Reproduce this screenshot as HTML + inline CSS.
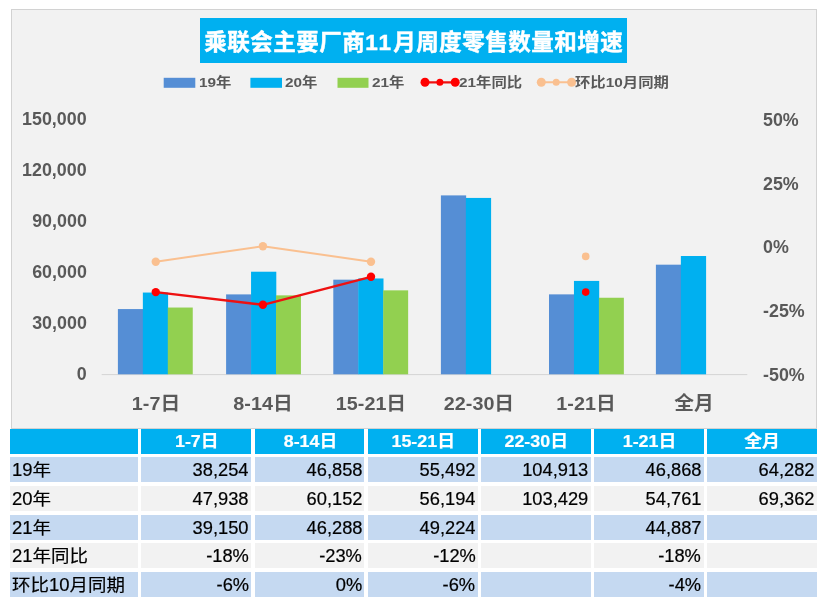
<!DOCTYPE html>
<html lang="zh"><head><meta charset="utf-8"><title>乘联会主要厂商11月周度零售数量和增速</title>
<style>
html,body{margin:0;padding:0;background:#fff;}
body{width:831px;height:615px;position:relative;overflow:hidden;font-family:"Liberation Sans","Noto Sans CJK SC",sans-serif;}
.abs{position:absolute;white-space:nowrap;}
#chart{position:absolute;left:10.5px;top:8.5px;width:806.5px;height:420.3px;background:#f2f2f2;border:1px solid #d2d2d2;box-sizing:border-box;}
#title{left:200.3px;top:18.2px;width:426.4px;height:44.6px;background:#00b0f0;color:#fff;font-weight:bold;font-size:22.5px;line-height:49.6px;text-align:center;letter-spacing:0.5px;text-indent:0.5px;-webkit-text-stroke:0.45px #fff;}
.yl{color:#595959;font-weight:bold;font-size:17.6px;line-height:20px;height:20px;transform:scaleX(1.015);}
.yl.l{right:744.3px;text-align:right;transform-origin:100% 50%;}
.yl.r{left:763.0px;transform-origin:0 50%;}
.cat{color:#595959;font-weight:bold;font-size:19px;line-height:22px;height:22px;width:100px;text-align:center;transform:scaleX(1.04);transform-origin:50% 50%;}
.lg{color:#595959;font-weight:bold;font-size:13.6px;line-height:16px;height:16px;transform:scaleX(1.13);transform-origin:0 50%;}
.cell{position:absolute;height:25.4px;line-height:25.4px;font-size:17.5px;color:#000;white-space:nowrap;box-sizing:border-box;-webkit-text-stroke:0.2px #000;}
.hd{-webkit-text-stroke:0.2px #fff;background:#00b0f0;color:#fff;font-weight:bold;text-align:center;font-size:17px;}
.b{background:#c5d9f1;}
.g{background:#f2f2f2;}
.n{text-align:right;padding-right:2.3px;}
.f{text-align:left;padding-left:2.0px;}
.cell span{display:inline-block;position:relative;top:1px;}
.hd span{transform:scaleX(1.05);top:0.6px;left:0.5px;}
.n span{transform:scaleX(1.045);top:1.4px;transform-origin:100% 50%;}
.f span{transform:scaleX(1.055);transform-origin:0 50%;}
</style></head><body>
<div id="chart"></div>
<div id="title" class="abs">乘联会主要厂商<span style="letter-spacing:2px">11</span>月周度零售数量和增速</div>

<svg class="abs" style="left:0;top:0" width="831" height="615" viewBox="0 0 831 615"><line x1="101.7" y1="374.6" x2="747.3" y2="374.6" stroke="#d4d4d4" stroke-width="1"/>
<rect x="117.90" y="309.06" width="25.25" height="65.24" fill="#558ed5"/>
<rect x="142.85" y="292.55" width="25.25" height="81.75" fill="#00b0f0"/>
<rect x="167.80" y="307.54" width="24.95" height="66.76" fill="#92d050"/>
<rect x="226.10" y="294.39" width="25.25" height="79.91" fill="#558ed5"/>
<rect x="251.05" y="271.72" width="25.25" height="102.58" fill="#00b0f0"/>
<rect x="276.00" y="295.36" width="24.95" height="78.94" fill="#92d050"/>
<rect x="333.30" y="279.67" width="25.25" height="94.63" fill="#558ed5"/>
<rect x="358.25" y="278.47" width="25.25" height="95.83" fill="#00b0f0"/>
<rect x="383.20" y="290.36" width="24.95" height="83.94" fill="#92d050"/>
<rect x="440.90" y="195.39" width="25.25" height="178.91" fill="#558ed5"/>
<rect x="465.85" y="197.92" width="25.25" height="176.38" fill="#00b0f0"/>
<rect x="549.00" y="294.37" width="25.25" height="79.93" fill="#558ed5"/>
<rect x="573.95" y="280.91" width="25.25" height="93.39" fill="#00b0f0"/>
<rect x="598.90" y="297.75" width="24.95" height="76.55" fill="#92d050"/>
<rect x="655.90" y="264.68" width="25.25" height="109.62" fill="#558ed5"/>
<rect x="680.85" y="256.01" width="25.25" height="118.29" fill="#00b0f0"/>
<polyline fill="none" stroke="#fac090" stroke-width="2" stroke-linejoin="round" points="155.75,261.7 262.9,246.2 371.0,261.7"/>
<circle cx="155.75" cy="261.7" r="4.2" fill="#fac090"/>
<circle cx="262.9" cy="246.2" r="4.2" fill="#fac090"/>
<circle cx="371.0" cy="261.7" r="4.2" fill="#fac090"/>
<circle cx="585.7" cy="256.4" r="3.8" fill="#fac090"/>
<polyline fill="none" stroke="#ee1111" stroke-width="2.4" stroke-linejoin="round" points="155.75,292.1 262.9,304.8 371.0,276.8"/>
<circle cx="155.75" cy="292.1" r="4.2" fill="#ff0000"/>
<circle cx="262.9" cy="304.8" r="4.2" fill="#ff0000"/>
<circle cx="371.0" cy="276.8" r="4.2" fill="#ff0000"/>
<circle cx="585.7" cy="292.1" r="3.8" fill="#ff0000"/>
<rect x="163.7" y="77.8" width="31.6" height="10" fill="#558ed5"/>
<rect x="250.4" y="77.8" width="31.6" height="10" fill="#00b0f0"/>
<rect x="337.5" y="77.8" width="31" height="10" fill="#92d050"/>
<line x1="421" y1="82.3" x2="459" y2="82.3" stroke="#ee1111" stroke-width="2.2"/>
<circle cx="425" cy="82.3" r="4.5" fill="#ff0000"/>
<circle cx="439.9" cy="82.3" r="3.5" fill="#ff0000"/>
<circle cx="455.2" cy="82.3" r="4.5" fill="#ff0000"/>
<line x1="538" y1="82.3" x2="575" y2="82.3" stroke="#fac090" stroke-width="2"/>
<circle cx="541.3" cy="82.3" r="4.5" fill="#fac090"/>
<circle cx="556.2" cy="82.3" r="3.5" fill="#fac090"/>
<circle cx="571.6" cy="82.3" r="4.5" fill="#fac090"/></svg>
<div class="abs yl l" style="top:109.0px">150,000</div>
<div class="abs yl l" style="top:159.6px">120,000</div>
<div class="abs yl l" style="top:210.5px">90,000</div>
<div class="abs yl l" style="top:261.7px">60,000</div>
<div class="abs yl l" style="top:312.5px">30,000</div>
<div class="abs yl l" style="top:364.0px">0</div>
<div class="abs yl r" style="top:109.7px">50%</div>
<div class="abs yl r" style="top:173.5px">25%</div>
<div class="abs yl r" style="top:236.7px">0%</div>
<div class="abs yl r" style="top:301.1px">-25%</div>
<div class="abs yl r" style="top:365.1px">-50%</div>
<div class="abs cat" style="left:105.8px;top:392.9px">1-7日</div>
<div class="abs cat" style="left:213.4px;top:392.9px">8-14日</div>
<div class="abs cat" style="left:320.9px;top:392.9px">15-21日</div>
<div class="abs cat" style="left:428.5px;top:392.9px">22-30日</div>
<div class="abs cat" style="left:536.2px;top:392.9px">1-21日</div>
<div class="abs cat" style="left:643.6px;top:392.9px">全月</div>
<div class="abs lg" style="left:198.6px;top:75.0px">19年</div>
<div class="abs lg" style="left:285.2px;top:75.0px">20年</div>
<div class="abs lg" style="left:371.7px;top:75.0px">21年</div>
<div class="abs lg" style="left:459.0px;top:75.0px">21年同比</div>
<div class="abs lg" style="left:575.2px;top:75.0px">环比10月同期</div>
<div class="cell hd" style="left:10px;top:428.8px;width:127.9px"><span></span></div>
<div class="cell hd" style="left:141.1px;top:428.8px;width:110.1px"><span>1-7日</span></div>
<div class="cell hd" style="left:254.8px;top:428.8px;width:109.6px"><span>8-14日</span></div>
<div class="cell hd" style="left:367.8px;top:428.8px;width:110.1px"><span>15-21日</span></div>
<div class="cell hd" style="left:480.8px;top:428.8px;width:110.2px"><span>22-30日</span></div>
<div class="cell hd" style="left:594px;top:428.8px;width:109.6px"><span>1-21日</span></div>
<div class="cell hd" style="left:706.9px;top:428.8px;width:110.1px"><span>全月</span></div>
<div class="cell b f" style="left:10px;top:456.9px;width:127.9px"><span>19年</span></div>
<div class="cell b n" style="left:141.1px;top:456.9px;width:110.1px"><span>38,254</span></div>
<div class="cell b n" style="left:254.8px;top:456.9px;width:109.6px"><span>46,858</span></div>
<div class="cell b n" style="left:367.8px;top:456.9px;width:110.1px"><span>55,492</span></div>
<div class="cell b n" style="left:480.8px;top:456.9px;width:110.2px"><span>104,913</span></div>
<div class="cell b n" style="left:594px;top:456.9px;width:109.6px"><span>46,868</span></div>
<div class="cell b n" style="left:706.9px;top:456.9px;width:110.1px"><span>64,282</span></div>
<div class="cell g f" style="left:10px;top:485.7px;width:127.9px"><span>20年</span></div>
<div class="cell g n" style="left:141.1px;top:485.7px;width:110.1px"><span>47,938</span></div>
<div class="cell g n" style="left:254.8px;top:485.7px;width:109.6px"><span>60,152</span></div>
<div class="cell g n" style="left:367.8px;top:485.7px;width:110.1px"><span>56,194</span></div>
<div class="cell g n" style="left:480.8px;top:485.7px;width:110.2px"><span>103,429</span></div>
<div class="cell g n" style="left:594px;top:485.7px;width:109.6px"><span>54,761</span></div>
<div class="cell g n" style="left:706.9px;top:485.7px;width:110.1px"><span>69,362</span></div>
<div class="cell b f" style="left:10px;top:514.5px;width:127.9px"><span>21年</span></div>
<div class="cell b n" style="left:141.1px;top:514.5px;width:110.1px"><span>39,150</span></div>
<div class="cell b n" style="left:254.8px;top:514.5px;width:109.6px"><span>46,288</span></div>
<div class="cell b n" style="left:367.8px;top:514.5px;width:110.1px"><span>49,224</span></div>
<div class="cell b n" style="left:480.8px;top:514.5px;width:110.2px"><span></span></div>
<div class="cell b n" style="left:594px;top:514.5px;width:109.6px"><span>44,887</span></div>
<div class="cell b n" style="left:706.9px;top:514.5px;width:110.1px"><span></span></div>
<div class="cell g f" style="left:10px;top:542.9px;width:127.9px"><span>21年同比</span></div>
<div class="cell g n" style="left:141.1px;top:542.9px;width:110.1px"><span>-18%</span></div>
<div class="cell g n" style="left:254.8px;top:542.9px;width:109.6px"><span>-23%</span></div>
<div class="cell g n" style="left:367.8px;top:542.9px;width:110.1px"><span>-12%</span></div>
<div class="cell g n" style="left:480.8px;top:542.9px;width:110.2px"><span></span></div>
<div class="cell g n" style="left:594px;top:542.9px;width:109.6px"><span>-18%</span></div>
<div class="cell g n" style="left:706.9px;top:542.9px;width:110.1px"><span></span></div>
<div class="cell b f" style="left:10px;top:571.5px;width:127.9px"><span>环比10月同期</span></div>
<div class="cell b n" style="left:141.1px;top:571.5px;width:110.1px"><span>-6%</span></div>
<div class="cell b n" style="left:254.8px;top:571.5px;width:109.6px"><span>0%</span></div>
<div class="cell b n" style="left:367.8px;top:571.5px;width:110.1px"><span>-6%</span></div>
<div class="cell b n" style="left:480.8px;top:571.5px;width:110.2px"><span></span></div>
<div class="cell b n" style="left:594px;top:571.5px;width:109.6px"><span>-4%</span></div>
<div class="cell b n" style="left:706.9px;top:571.5px;width:110.1px"><span></span></div>
</body></html>
